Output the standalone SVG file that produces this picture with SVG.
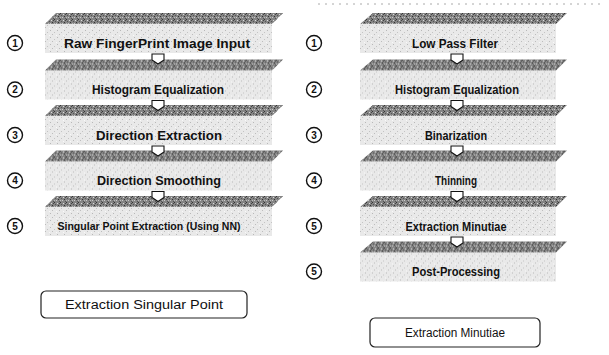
<svg xmlns="http://www.w3.org/2000/svg" width="609" height="355" viewBox="0 0 609 355">
<style>
  .lbl{font-family:"Liberation Sans",Arial,sans-serif;font-weight:bold;font-size:12px;fill:#111;text-anchor:middle}
  .sm{font-size:10.5px}
  .num{font-family:"Liberation Sans",Arial,sans-serif;font-size:10px;font-weight:bold;fill:#111;text-anchor:middle}
  .circ{fill:#fff;stroke:#111;stroke-width:1.4}
  .strip{fill:url(#dark)}
  .body{fill:url(#light)}
  .arr{fill:#fff;stroke:#111;stroke-width:1.1}
  .box{fill:#fff;stroke:#222;stroke-width:1.2}
  .plain{font-weight:normal;font-size:12.5px}
</style>
<defs>
  <pattern id="dark" width="6" height="6" patternUnits="userSpaceOnUse">
    <rect width="6" height="6" fill="#858585"/>
    <rect x="0" y="0" width="1" height="1" fill="#333"/>
    <rect x="3" y="1" width="1" height="1" fill="#ddd"/>
    <rect x="1" y="2" width="1" height="1" fill="#555"/>
    <rect x="4" y="3" width="1" height="1" fill="#333"/>
    <rect x="2" y="4" width="1" height="1" fill="#ccc"/>
    <rect x="5" y="5" width="1" height="1" fill="#555"/>
    <rect x="0" y="4" width="1" height="1" fill="#bbb"/>
    <rect x="5" y="1" width="1" height="1" fill="#444"/>
  </pattern>
  <pattern id="light" width="7" height="7" patternUnits="userSpaceOnUse">
    <rect width="7" height="7" fill="#e9e9e9"/>
    <rect x="1" y="1" width="1" height="1" fill="#b8b8b8"/>
    <rect x="5" y="3" width="1" height="1" fill="#c4c4c4"/>
    <rect x="3" y="5" width="1" height="1" fill="#bdbdbd"/>
    <rect x="0" y="6" width="1" height="1" fill="#f8f8f8"/>
  </pattern>
  <symbol id="stepL" overflow="visible">
    <rect class="body" x="45" y="-19" width="227" height="29"/>
    <polygon class="strip" points="45,-19 56,-30 283,-30 272,-19"/>
  </symbol>
  <symbol id="stepR" overflow="visible">
    <rect class="body" x="360" y="-19" width="196" height="29"/>
    <polygon class="strip" points="360,-19 373,-30 567,-30 556,-19"/>
  </symbol>
</defs>

<rect width="609" height="355" fill="#fff"/>
<line x1="318" y1="4" x2="605" y2="4" stroke="#aaa" stroke-width="1" stroke-dasharray="2 5"/>

<!-- Left column -->
<g id="L1" transform="translate(0,43)">
  <use href="#stepL"/>
  <circle class="circ" cx="15" cy="0" r="7.5"/><text class="num" x="15" y="3.5">1</text>
  <text class="lbl" x="157" y="4.5" textLength="186" lengthAdjust="spacingAndGlyphs">Raw FingerPrint Image Input</text>
</g>
<g id="L2" transform="translate(0,89.5)">
  <use href="#stepL"/>
  <circle class="circ" cx="15" cy="0" r="7.5"/><text class="num" x="15" y="3.5">2</text>
  <text class="lbl" x="158" y="4.5" textLength="132" lengthAdjust="spacingAndGlyphs">Histogram Equalization</text>
</g>
<g id="L3" transform="translate(0,135)">
  <use href="#stepL"/>
  <circle class="circ" cx="15" cy="0" r="7.5"/><text class="num" x="15" y="3.5">3</text>
  <text class="lbl" x="159" y="4.5" textLength="126" lengthAdjust="spacingAndGlyphs">Direction Extraction</text>
</g>
<g id="L4" transform="translate(0,180.5)">
  <use href="#stepL"/>
  <circle class="circ" cx="15" cy="0" r="7.5"/><text class="num" x="15" y="3.5">4</text>
  <text class="lbl" x="159" y="4.5" textLength="124" lengthAdjust="spacingAndGlyphs">Direction Smoothing</text>
</g>
<g id="L5" transform="translate(0,226)">
  <use href="#stepL"/>
  <circle class="circ" cx="15" cy="0" r="7.5"/><text class="num" x="15" y="3.5">5</text>
  <text class="lbl sm" x="149" y="4" textLength="183" lengthAdjust="spacingAndGlyphs">Singular Point Extraction (Using NN)</text>
</g>
<g id="boxL">
  <rect class="box" x="41" y="291" width="206" height="27" rx="5"/>
  <text class="lbl plain" x="144" y="308.5" textLength="158" lengthAdjust="spacingAndGlyphs">Extraction Singular Point</text>
</g>

<!-- Right column -->
<g id="R1" transform="translate(0,43)">
  <use href="#stepR"/>
  <circle class="circ" cx="314" cy="0" r="7.5"/><text class="num" x="314" y="3.5">1</text>
  <text class="lbl" x="455" y="4.5" textLength="86" lengthAdjust="spacingAndGlyphs">Low Pass Filter</text>
</g>
<g id="R2" transform="translate(0,89.5)">
  <use href="#stepR"/>
  <circle class="circ" cx="314" cy="0" r="7.5"/><text class="num" x="314" y="3.5">2</text>
  <text class="lbl" x="457" y="4.5" textLength="124" lengthAdjust="spacingAndGlyphs">Histogram Equalization</text>
</g>
<g id="R3" transform="translate(0,135)">
  <use href="#stepR"/>
  <circle class="circ" cx="314" cy="0" r="7.5"/><text class="num" x="314" y="3.5">3</text>
  <text class="lbl" x="456" y="4.5" textLength="62" lengthAdjust="spacingAndGlyphs">Binarization</text>
</g>
<g id="R4" transform="translate(0,180.5)">
  <use href="#stepR"/>
  <circle class="circ" cx="314" cy="0" r="7.5"/><text class="num" x="314" y="3.5">4</text>
  <text class="lbl" x="456" y="4.5" textLength="42" lengthAdjust="spacingAndGlyphs">Thinning</text>
</g>
<g id="R5" transform="translate(0,226)">
  <use href="#stepR"/>
  <circle class="circ" cx="314" cy="0" r="7.5"/><text class="num" x="314" y="3.5">5</text>
  <text class="lbl" x="456" y="4.5" textLength="101" lengthAdjust="spacingAndGlyphs">Extraction Minutiae</text>
</g>
<g id="R6" transform="translate(0,271.5)">
  <use href="#stepR"/>
  <circle class="circ" cx="314" cy="0" r="7.5"/><text class="num" x="314" y="3.5">5</text>
  <text class="lbl" x="456" y="4.5" textLength="88" lengthAdjust="spacingAndGlyphs">Post-Processing</text>
</g>
<g id="boxR">
  <rect class="box" x="370" y="318" width="170" height="29" rx="5"/>
  <text class="lbl plain" x="455" y="337" textLength="100" lengthAdjust="spacingAndGlyphs">Extraction Minutiae</text>
</g>

<!-- Connectors -->
<g id="connectors">
  <path class="arr" d="M152,54 h12 v6 l-6,4 l-6,-4 z"/>
  <path class="arr" d="M152,100.5 h12 v6 l-6,4 l-6,-4 z"/>
  <path class="arr" d="M152,146 h12 v6 l-6,4 l-6,-4 z"/>
  <path class="arr" d="M152,191.5 h12 v6 l-6,4 l-6,-4 z"/>
  <path class="arr" d="M451,54 h12 v6 l-6,4 l-6,-4 z"/>
  <path class="arr" d="M451,100.5 h12 v6 l-6,4 l-6,-4 z"/>
  <path class="arr" d="M451,146 h12 v6 l-6,4 l-6,-4 z"/>
  <path class="arr" d="M451,191.5 h12 v6 l-6,4 l-6,-4 z"/>
  <path class="arr" d="M451,237 h12 v6 l-6,4 l-6,-4 z"/>
</g>
</svg>
